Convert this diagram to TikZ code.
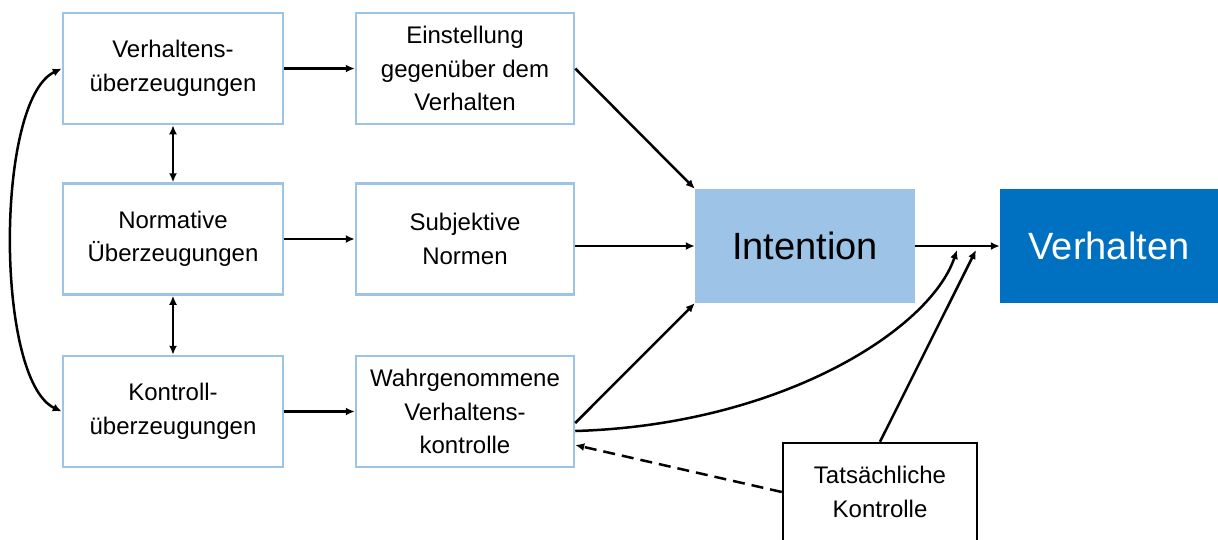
\documentclass[tikz,border=0pt]{standalone}
\usepackage{fontspec}
\setmainfont{Liberation Sans}
\usetikzlibrary{arrows.meta,calc}
\definecolor{paleblue}{HTML}{9DC3E6}
\definecolor{deepblue}{HTML}{0070C0}
\tikzset{
  txt/.style={font=\fontsize{24}{33.5}\selectfont, align=center},
  beliefbox/.style={txt, draw=paleblue, line width=2.5pt, minimum width=220pt, minimum height=111pt, inner sep=0pt},
  midbox/.style={beliefbox, minimum width=218pt},
  bigbox/.style={font=\fontsize{38}{44}\selectfont, minimum width=220pt, minimum height=114pt, inner sep=0pt},
  plainbox/.style={txt, draw=black, line width=2.5pt, minimum width=194pt, minimum height=98pt, inner sep=0pt},
  link/.style={line width=2.5pt, -{Latex[length=9pt,width=8pt]}},
  twoway/.style={line width=2.5pt, {Latex[length=9pt,width=8pt]}-{Latex[length=9pt,width=8pt]}},
}
\begin{document}
\begin{tikzpicture}[x=1pt, y=-1pt]
\useasboundingbox (0,0) rectangle (1218,539);
\clip (0,0) rectangle (1218,539);

% belief boxes (left column)
\node[beliefbox] (b1) at (173,68.5) {Verhaltens-\\überzeugungen};
\node[beliefbox] (b2) at (173,239) {Normative\\Überzeugungen};
\node[beliefbox] (b3) at (173,411.5) {Kontroll-\\überzeugungen};

% determinants (middle column)
\node[midbox] (m1) at (465,68.5) {Einstellung\\gegenüber dem\\Verhalten};
\node[midbox] (m2) at (465,239) {Subjektive\\Normen};
\node[midbox] (m3) at (465,411.5) {Wahrgenommene\\Verhaltens-\\kontrolle};

% intention and behaviour
\node[bigbox, fill=paleblue] (int) at (805,246) {Intention};
\node[bigbox, fill=deepblue, text=white, minimum width=218pt] (verh) at (1109,246) {Verhalten};

% actual control
\node[plainbox] (tk) at (880,492) {Tatsächliche\\Kontrolle};

% junction points on the intention-behaviour link
\coordinate (j1) at (957,250);
\coordinate (j2) at (976,250);

% links between beliefs
\draw[twoway] (b1.south) -- (b2.north);
\draw[twoway] (b2.south) -- (b3.north);
\draw[twoway] (b1.west) .. controls (-5,100) and (-5,380) .. (b3.west);

% beliefs to determinants
\draw[link] (b1) -- (m1);
\draw[link] (b2) -- (m2);
\draw[link] (b3) -- (m3);

% determinants to intention
\draw[link] (m1.east) -- (int.north west);
\draw[link] (m2.east |- int.west) -- (int.west);
\draw[link] ([yshift=-11.5pt]m3.east) -- (int.south west);

% intention to behaviour
\draw[link] (int.east) -- (verh.west);

% perceived and actual control to behaviour
\draw[link] ([yshift=-19.5pt]m3.east) .. controls (780,425) and (930,330) .. (j1);
\draw[link] (tk.north) -- (j2);
\draw[link, dash pattern=on 12pt off 7pt] (tk.west) -- ([yshift=-33.5pt]m3.east);
\end{tikzpicture}
\end{document}
